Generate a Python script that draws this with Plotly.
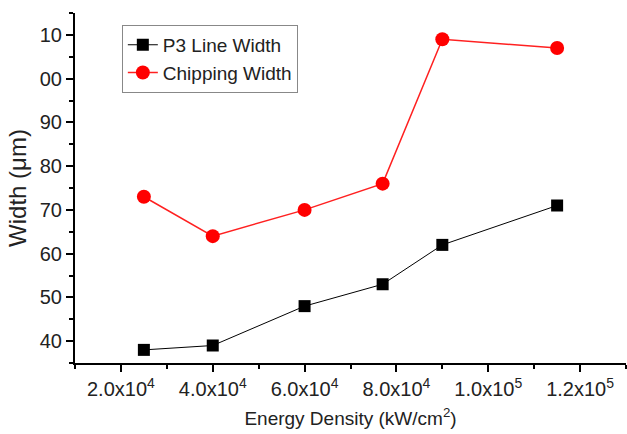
import plotly.graph_objects as go

energy = [2.5e4, 4.0e4, 6.0e4, 7.7e4, 9.0e4, 1.15e5]
p3_width = [38, 39, 48, 53, 62, 71]
chip_width = [73, 64, 70, 76, 109, 107]

x_tickvals = [2e4, 4e4, 6e4, 8e4, 1e5, 1.2e5]
x_ticktext = ["2.0x10<sup>4</sup>", "4.0x10<sup>4</sup>", "6.0x10<sup>4</sup>",
              "8.0x10<sup>4</sup>", "1.0x10<sup>5</sup>", "1.2x10<sup>5</sup>"]
y_tickvals = [40, 50, 60, 70, 80, 90, 100, 110]
y_ticktext = ["40", "50", "60", "70", "80", "90", "00", "10"]

font = "Arial, Liberation Sans, sans-serif"

fig = go.Figure()
fig.add_trace(go.Scatter(x=energy, y=p3_width, mode="lines+markers", name="P3 Line Width",
                         line=dict(color="black", width=1),
                         marker=dict(symbol="square", size=12, color="black")))
fig.add_trace(go.Scatter(x=energy, y=chip_width, mode="lines+markers", name="Chipping Width",
                         line=dict(color="#ff2020", width=1.5),
                         marker=dict(symbol="circle", size=14, color="#ff0000")))

fig.update_layout(
    width=627, height=434,
    margin=dict(l=75, r=1, t=13, b=71),
    plot_bgcolor="white", paper_bgcolor="white",
    font=dict(family=font, color="black", size=19),
    showlegend=True,
    legend=dict(x=0.085, y=0.966, xanchor="left", yanchor="top",
                bordercolor="#888888", borderwidth=1, bgcolor="white",
                font=dict(size=19, color="#222222"), tracegroupgap=0, itemsizing="trace"),
    xaxis=dict(range=[1e4, 1.3e5], tickmode="array", tickvals=x_tickvals, ticktext=x_ticktext,
               showgrid=False, zeroline=False, showline=True, linecolor="black", linewidth=2,
               ticks="outside", ticklen=7, tickwidth=1.5, tickcolor="black",
               tickfont=dict(size=20, color="#222222"),
               minor=dict(ticks="outside", ticklen=4, tickwidth=1.5, tickcolor="black",
                          tick0=1e4, dtick=1e4, showgrid=False),
               title=dict(text="Energy Density (kW/cm<sup>2</sup>)", font=dict(size=19, color="#222222"),
                          standoff=13)),
    yaxis=dict(range=[35, 115], tickmode="array", tickvals=y_tickvals, ticktext=y_ticktext,
               showgrid=False, zeroline=False, showline=True, linecolor="black", linewidth=2,
               ticks="outside", ticklen=7, tickwidth=1.5, tickcolor="black",
               tickfont=dict(size=20, color="#222222"),
               minor=dict(ticks="outside", ticklen=4, tickwidth=1.5, tickcolor="black",
                          tick0=35, dtick=5, showgrid=False),
               title=dict(text="Width (\u03bcm)", font=dict(size=24, color="#222222"), standoff=6)),
)

fig.write_html("out.html")
